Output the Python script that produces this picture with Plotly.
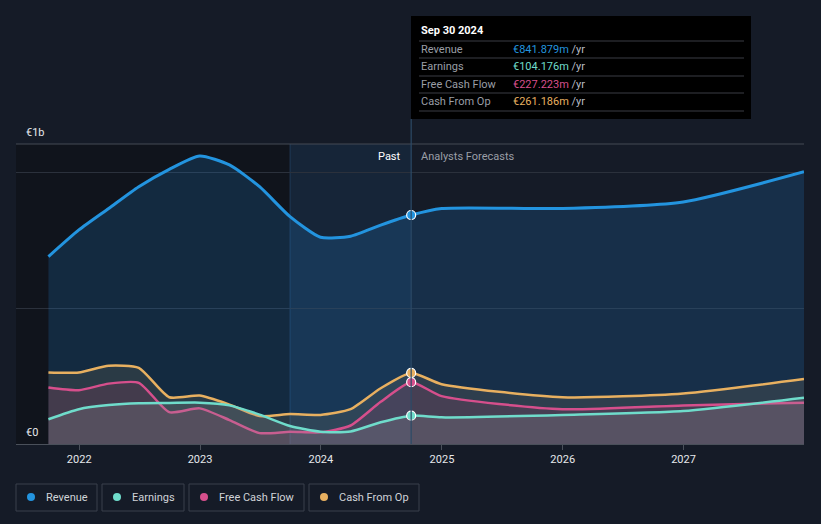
import plotly.graph_objects as go

# ---------------- data (values in € millions) ----------------
past_dates = ["2021-09-30", "2021-12-31", "2022-03-31", "2022-06-30", "2022-09-30",
              "2022-12-31", "2023-03-31", "2023-06-30", "2023-09-30", "2023-12-31",
              "2024-03-31", "2024-06-30", "2024-09-30"]
fc_dates = ["2024-09-30", "2024-12-31", "2025-12-31", "2026-12-31", "2027-12-31"]

revenue_past = [689, 787, 866, 946, 1010, 1059, 1026, 946, 836, 760, 764, 805, 841.879]
earnings_past = [91, 128, 143, 150, 151, 152, 142, 108, 66, 45, 46, 80, 104.176]
fcf_past = [208, 198, 222, 225, 117, 131, 88, 40, 45, 43, 68, 155, 227.223]
cfo_past = [263, 263, 288, 280, 172, 178, 145, 103, 110, 107, 128, 205, 261.186]

revenue_fc = [841.879, 866, 866, 890, 1001]
earnings_fc = [104.176, 98, 107, 121, 170]
fcf_fc = [227.223, 176, 128, 142, 152]
cfo_fc = [261.186, 220, 172, 186, 239]

series_names = ["Revenue", "Earnings", "Free Cash Flow", "Cash From Op"]
tooltip_values = ["€841.879m", "€104.176m", "€227.223m", "€261.186m"]
x_ticks = ["2022-01-01", "2023-01-01", "2024-01-01", "2025-01-01", "2026-01-01", "2027-01-01"]
x_tick_labels = ["2022", "2023", "2024", "2025", "2026", "2027"]

colors = {"Revenue": "#2394df", "Earnings": "#6fdccb",
          "Free Cash Flow": "#d64f8c", "Cash From Op": "#e8b060"}
fills = {"Revenue": "rgba(35,130,210,0.20)", "Earnings": "rgba(150,150,160,0.22)",
         "Free Cash Flow": "rgba(200,70,120,0.16)", "Cash From Op": "rgba(200,170,110,0.13)"}

BG = "#151b27"
W, H = 821, 524
L, R, T, B = 16, 804, 144, 444


def px(xp):
    return (xp - L) / (R - L)


def py(yp):
    return (B - yp) / (B - T)


fig = go.Figure()

data = {
    "Revenue": (revenue_past, revenue_fc),
    "Cash From Op": (cfo_past, cfo_fc),
    "Free Cash Flow": (fcf_past, fcf_fc),
    "Earnings": (earnings_past, earnings_fc),
}
for name in ["Revenue", "Cash From Op", "Free Cash Flow", "Earnings"]:
    past, fc = data[name]
    xs = past_dates + fc_dates[1:]
    ys = past + fc[1:]
    fig.add_trace(go.Scatter(
        x=xs, y=ys, mode="lines", name=name,
        line=dict(color=colors[name], width=3 if name == "Revenue" else 2.5,
                  shape="spline", smoothing=0.6),
        fill="tozeroy", fillcolor=fills[name], hoverinfo="skip", showlegend=False))

# markers at the last reported date
for name in ["Revenue", "Cash From Op", "Free Cash Flow", "Earnings"]:
    past, _ = data[name]
    fig.add_trace(go.Scatter(
        x=[past_dates[-1]], y=[past[-1]], mode="markers",
        marker=dict(size=9, color=colors[name], line=dict(color="white", width=1.2)),
        hoverinfo="skip", showlegend=False))

shapes = []
# darker past background
shapes.append(dict(type="rect", xref="x", yref="paper", x0="2021-06-24", x1="2023-09-30",
                   y0=0, y1=1, fillcolor="#10141c", line=dict(width=0), layer="below"))
# highlighted last year
shapes.append(dict(type="rect", xref="x", yref="paper", x0="2023-09-30", x1="2024-09-30",
                   y0=0, y1=1, fillcolor="rgba(30,95,150,0.16)", line=dict(width=0), layer="below"))
shapes.append(dict(type="line", xref="x", yref="paper", x0="2023-09-30", x1="2023-09-30",
                   y0=0, y1=1, line=dict(color="rgba(60,110,160,0.35)", width=1), layer="below"))
# top border
shapes.append(dict(type="line", xref="paper", yref="paper", x0=0, x1=1, y0=1, y1=1,
                   line=dict(color="#444a55", width=1)))
# tooltip box
shapes.append(dict(type="rect", xref="paper", yref="paper", x0=px(411), x1=px(751),
                   y0=py(119), y1=py(16), fillcolor="#000000", line=dict(width=0)))
# divider line
shapes.append(dict(type="line", xref="x", yref="paper", x0="2024-09-30", x1="2024-09-30",
                   y0=0, y1=py(119), line=dict(color="#2c4a66", width=1.2)))
for yl in [41, 58, 76, 93, 111]:
    shapes.append(dict(type="line", xref="paper", yref="paper", x0=px(419), x1=px(744),
                       y0=py(yl), y1=py(yl), line=dict(color="#3a3d44", width=1)))

annotations = []
annotations.append(dict(x=px(419), y=py(31), xref="paper", yref="paper", text="<b>Sep 30 2024</b>",
                        showarrow=False, xanchor="left", yanchor="middle",
                        font=dict(color="#ffffff", size=11)))
for i, (nm, val) in enumerate(zip(series_names, tooltip_values)):
    yy = [49, 66, 84, 101][i]
    annotations.append(dict(x=px(419), y=py(yy), xref="paper", yref="paper", text=nm,
                            showarrow=False, xanchor="left", yanchor="middle",
                            font=dict(color="#9a9ea6", size=11)))
    annotations.append(dict(x=px(511), y=py(yy), xref="paper", yref="paper",
                            text=f"<span style='color:{colors[nm]}'>{val}</span>"
                                 f"<span style='color:#b8bcc4'> /yr</span>",
                            showarrow=False, xanchor="left", yanchor="middle",
                            font=dict(size=11)))

annotations.append(dict(x=px(24), y=py(132), xref="paper", yref="paper", text="€1b",
                        showarrow=False, xanchor="left", yanchor="middle",
                        font=dict(color="#e6e8eb", size=11)))
annotations.append(dict(x=px(24), y=py(432), xref="paper", yref="paper", text="€0",
                        showarrow=False, xanchor="left", yanchor="middle",
                        font=dict(color="#e6e8eb", size=11)))
annotations.append(dict(x=px(403), y=py(156), xref="paper", yref="paper", text="Past",
                        showarrow=False, xanchor="right", yanchor="middle",
                        font=dict(color="#ffffff", size=11)))
annotations.append(dict(x=px(419), y=py(156), xref="paper", yref="paper", text="Analysts Forecasts",
                        showarrow=False, xanchor="left", yanchor="middle",
                        font=dict(color="#9a9ea6", size=11)))

# custom legend
legend_boxes = [(16, 97), (102, 184), (189, 304), (309, 419)]
for (x0, x1), nm in zip(legend_boxes, series_names):
    shapes.append(dict(type="rect", xref="paper", yref="paper", x0=px(x0), x1=px(x1),
                       y0=py(511), y1=py(484), fillcolor="rgba(0,0,0,0)",
                       line=dict(color="#3b414c", width=1)))
    shapes.append(dict(type="circle", xref="paper", yref="paper", x0=px(x0 + 11), x1=px(x0 + 19),
                       y0=py(501), y1=py(493), fillcolor=colors[nm], line=dict(width=0)))
    annotations.append(dict(x=px(x0 + 28), y=py(497), xref="paper", yref="paper", text=nm,
                            showarrow=False, xanchor="left", yanchor="middle",
                            font=dict(color="#d0d3d8", size=11)))

fig.update_layout(
    width=W, height=H,
    margin=dict(l=L, r=W - R, t=T, b=H - B),
    paper_bgcolor=BG, plot_bgcolor=BG,
    font=dict(family="Roboto, sans-serif", color="#e6e8eb", size=11),
    shapes=shapes, annotations=annotations, showlegend=False,
    xaxis=dict(type="date", range=["2021-06-24", "2027-12-31"], tickvals=x_ticks,
               ticktext=x_tick_labels, showgrid=False, zeroline=False,
               showline=True, linecolor="#4a505a", linewidth=1,
               ticks="outside", ticklen=5, tickcolor="#4a505a",
               tickfont=dict(color="#e6e8eb", size=11), fixedrange=True),
    yaxis=dict(range=[0, 1103], tickvals=[0, 500, 1000], showticklabels=False,
               showgrid=True, gridcolor="#2b313c", gridwidth=1, zeroline=False,
               showline=False, fixedrange=True),
)

fig.write_html("out.html", config={"displayModeBar": False},
               post_script="document.body.style.margin='0';document.body.style.background='#151b27';")
